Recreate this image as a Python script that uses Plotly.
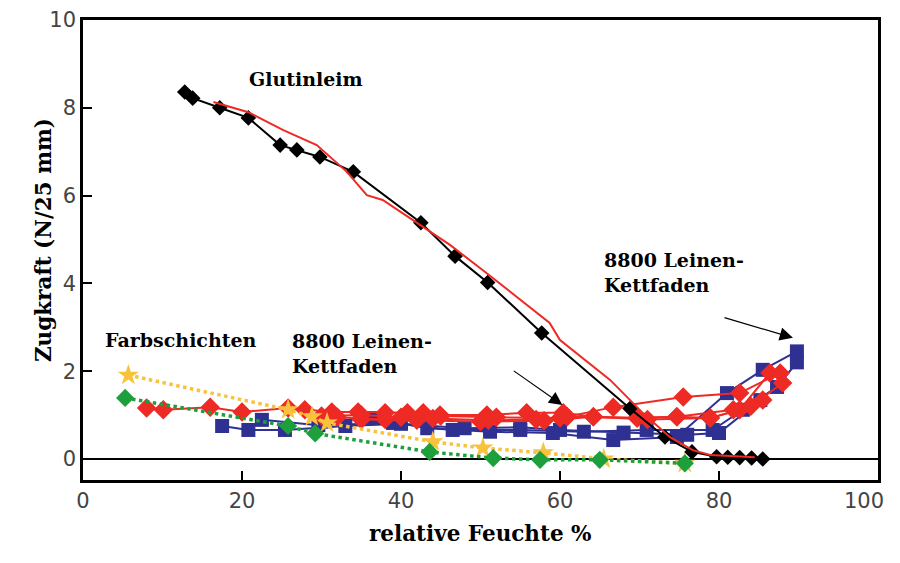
import plotly.graph_objects as go

# Glutinleim (schwarz, Rauten) und Vergleichskurve (rot, dünn)
glutin_x = [12.8, 13.8, 17.2, 20.8, 24.8, 26.9, 29.8, 34.0, 42.5, 46.8, 50.9, 57.7,
            68.8, 73.2, 76.6, 79.7, 81.1, 82.6, 84.1, 85.5]
glutin_y = [8.36, 8.22, 8.0, 7.77, 7.15, 7.04, 6.88, 6.54, 5.38, 4.62, 4.02, 2.87,
            1.15, 0.5, 0.16, 0.05, 0.04, 0.03, 0.02, 0.0]
glutin_rot_x = [16.4, 20.8, 25.2, 29.4, 33.2, 35.7, 37.7, 42.0, 46.2, 50.3, 54.6, 58.7,
                60.0, 66.3, 70.4, 73.8, 76.7, 78.9, 84.5]
glutin_rot_y = [8.13, 7.9, 7.49, 7.15, 6.54, 6.01, 5.9, 5.37, 4.87, 4.3, 3.69, 3.1,
                2.71, 1.8, 1.05, 0.5, 0.2, 0.09, 0.04]

# 8800 Leinen-Kettfaden (blau, Quadrate)
blau_a_x = [17.5, 20.8, 25.4, 33.0, 40.0, 48.0, 55.0, 60.0, 68.0, 76.0, 80.0, 85.2]
blau_a_y = [0.75, 0.66, 0.66, 0.75, 0.8, 0.7, 0.72, 0.66, 0.6, 0.55, 0.59, 1.34]
blau_b_x = [22.5, 29.6, 39.0, 46.5, 55.0, 63.0, 70.9, 79.2, 83.0, 87.3, 89.8]
blau_b_y = [0.89, 0.77, 0.82, 0.66, 0.66, 0.62, 0.66, 0.66, 1.12, 1.64, 2.2]
blau_c_x = [30.0, 36.5, 43.3, 51.2, 59.1, 66.7, 74.7, 81.0, 85.5, 89.8]
blau_c_y = [0.85, 0.93, 0.7, 0.62, 0.59, 0.43, 0.5, 1.5, 2.03, 2.45]

# 8800 Leinen-Kettfaden (rot, Rauten)
rot_a_x = [8.0, 10.1, 16.0, 20.0, 25.8, 27.9, 31.3, 34.6, 38.0, 40.8, 42.8, 44.9,
           50.8, 55.8, 60.4, 64.2, 69.7, 74.7, 78.9, 82.6, 86.4]
rot_a_y = [1.16, 1.12, 1.18, 1.07, 1.16, 1.12, 1.07, 1.07, 1.05, 1.05, 1.05, 1.0,
           1.0, 1.05, 1.05, 0.96, 0.93, 0.96, 0.93, 1.12, 1.96]
rot_b_x = [30.0, 35.0, 40.0, 45.0, 52.0, 60.0, 66.7, 75.5, 82.6, 87.7]
rot_b_y = [0.98, 1.0, 0.95, 0.98, 0.95, 0.93, 1.18, 1.41, 1.5, 1.96]
rot_c_x = [32.0, 38.0, 44.0, 51.0, 57.0, 60.9, 69.7, 74.7, 81.8, 85.5]
rot_c_y = [0.95, 0.9, 0.92, 0.88, 0.9, 0.96, 0.93, 0.96, 1.12, 1.34]
rot_d_x = [35.0, 42.0, 50.0, 58.0, 64.2, 71.0, 78.9, 84.0, 88.0]
rot_d_y = [0.9, 0.88, 0.85, 0.87, 0.96, 0.9, 0.93, 1.2, 1.73]

# Farbschichten (gelb Sterne, grün Rauten, gepunktet)
gelb_x = [5.7, 25.8, 28.8, 30.7, 44.0, 50.3, 57.9, 65.5, 75.7]
gelb_y = [1.91, 1.12, 0.96, 0.82, 0.39, 0.25, 0.14, 0.0, -0.1]
gruen_x = [5.3, 25.8, 29.2, 43.6, 51.6, 57.5, 65.0, 75.7]
gruen_y = [1.39, 0.75, 0.58, 0.16, 0.02, -0.02, -0.02, -0.1]

# Achsenbeschriftung
x_ticks = [0, 20, 40, 60, 80]
y_ticks = [0, 2, 4, 6, 8, 10]

BLAU = "#2E3192"
ROT = "#EE2A24"
GELB = "#F9C23C"
GRUEN = "#1DA03B"
SERIF = "DejaVu Serif"
TICKFONT = dict(family="DejaVu Sans", size=21, color="#444444")

fig = go.Figure()


def add(x, y, color, symbol, size, dash="solid", width=2):
    fig.add_trace(go.Scatter(x=x, y=y, mode="lines+markers",
                             line=dict(color=color, width=width, dash=dash),
                             marker=dict(symbol=symbol, size=size, color=color)))


for bx, by in [(blau_a_x, blau_a_y), (blau_b_x, blau_b_y), (blau_c_x, blau_c_y)]:
    add(bx, by, BLAU, "square", 14)
for rx, ry in [(rot_a_x, rot_a_y), (rot_b_x, rot_b_y), (rot_c_x, rot_c_y), (rot_d_x, rot_d_y)]:
    add(rx, ry, ROT, "diamond", 15)
add(gelb_x, gelb_y, GELB, "star", 16, dash="dot", width=3.5)
add(gruen_x, gruen_y, GRUEN, "diamond", 14, dash="dot", width=3.5)
add(glutin_x, glutin_y, "black", "diamond", 12)
fig.add_trace(go.Scatter(x=glutin_rot_x, y=glutin_rot_y, mode="lines",
                         line=dict(color=ROT, width=2)))

# Beschriftungen
txt = dict(family=SERIF, size=19, color="black")
fig.add_annotation(x=28, y=8.65, text="<b>Glutinleim</b>", showarrow=False, font=txt)
fig.add_annotation(x=2.5, y=2.72, text="<b>Farbschichten</b>", showarrow=False,
                   font=txt, xanchor="left")
fig.add_annotation(x=26, y=2.4, text="<b>8800 Leinen-<br>Kettfaden</b>", showarrow=False,
                   font=txt, xanchor="left", align="left")
fig.add_annotation(x=65.3, y=4.25, text="<b>8800 Leinen-<br>Kettfaden</b>", showarrow=False,
                   font=txt, xanchor="left", align="left")
# Pfeile
for (x0, y0, x1, y1) in [(54.0, 2.03, 60.3, 1.23), (80.5, 3.23, 89.3, 2.76)]:
    fig.add_annotation(x=x1, y=y1, ax=x0, ay=y0, axref="x", ayref="y", text="",
                       showarrow=True, arrowhead=2, arrowsize=2.2, arrowwidth=1.2,
                       arrowcolor="black")

# "100" am rechten Rand etwas nach innen, damit es nicht abgeschnitten wird
fig.add_annotation(x=100, y=0, yref="paper", text="100", showarrow=False, font=TICKFONT,
                   xanchor="right", yanchor="middle", xshift=8, yshift=-21)

# Achsentitel
titel = dict(family=SERIF, size=21.5, color="black")
fig.add_annotation(xref="paper", yref="paper", x=0.5, y=-0.148, text="<b>relative Feuchte %</b>",
                   showarrow=False, font=titel)
fig.add_annotation(xref="paper", yref="paper", x=-0.067, y=0.522, text="<b>Zugkraft (N/25 mm)</b>",
                   showarrow=False, font=titel, textangle=-90)

fig.update_layout(
    width=892, height=555, plot_bgcolor="white", paper_bgcolor="white",
    showlegend=False, margin=dict(l=75, r=22, t=12, b=83, autoexpand=False),
    font=TICKFONT,
)
fig.update_xaxes(range=[0, 100], tickvals=x_ticks,
                 ticks="inside", ticklen=9, tickwidth=2, tickcolor="black",
                 showline=True, mirror=True, linecolor="black", linewidth=2.5,
                 showgrid=False, zeroline=False, automargin=False)
fig.update_yaxes(range=[-0.48, 10], tickvals=y_ticks,
                 ticks="inside", ticklen=9, tickwidth=2, tickcolor="black",
                 showline=True, mirror=True, linecolor="black", linewidth=2.5,
                 showgrid=False, zeroline=True, zerolinecolor="black", zerolinewidth=2,
                 automargin=False)

fig.write_html("out.html")
